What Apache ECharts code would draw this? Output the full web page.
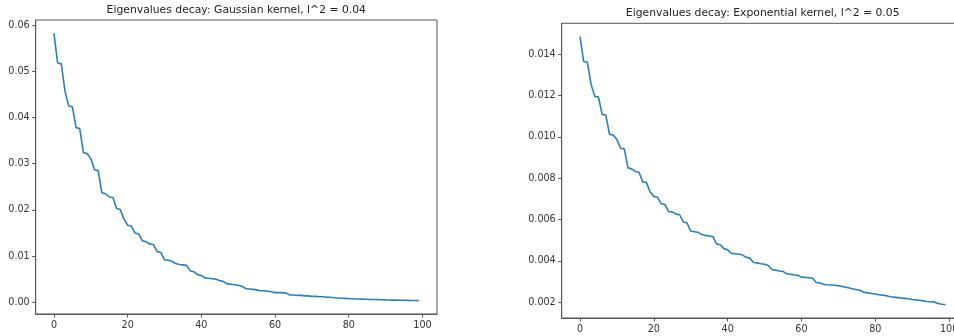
<!DOCTYPE html>
<html>
<head>
<meta charset="utf-8">
<script src="https://cdn.jsdelivr.net/npm/echarts@6/dist/echarts.min.js"></script>
<style>
html,body{margin:0;padding:0;background:#fff;}
#c{width:954px;height:336px;}
</style>
</head>
<body>
<div id="c"></div>
<script>
// ---- data ----
const titleLeft = 'Eigenvalues decay: Gaussian kernel, l^2 = 0.04';
const titleRight = 'Eigenvalues decay: Exponential kernel, l^2 = 0.05';

const gaussianEig = [
  0.0582, 0.0518, 0.0516, 0.0457, 0.0425, 0.0423, 0.0378, 0.0376, 0.0324, 0.0322,
  0.0311, 0.0287, 0.0285, 0.0237, 0.0235, 0.0228, 0.0227, 0.0203, 0.0201, 0.0180,
  0.0167, 0.0165, 0.0150, 0.0148, 0.0133, 0.0131, 0.0126, 0.0125, 0.0110, 0.0108,
  0.0092, 0.0091, 0.0089, 0.0084, 0.0082, 0.0081, 0.0080, 0.0068, 0.0066, 0.0060,
  0.0058, 0.0053, 0.0052, 0.0051, 0.0050, 0.0047, 0.0045, 0.0040, 0.0039, 0.0038,
  0.0037, 0.0035, 0.0030, 0.0029, 0.0028, 0.0027, 0.0025, 0.0025, 0.0024, 0.0023,
  0.0021, 0.0021, 0.0021, 0.0020, 0.0016, 0.0016, 0.0015, 0.0015, 0.0014, 0.0014,
  0.0013, 0.0013, 0.0012, 0.0012, 0.0011, 0.0011, 0.0010, 0.00095, 0.00088, 0.00085,
  0.00080, 0.00078, 0.00074, 0.00072, 0.00069, 0.00067, 0.00063, 0.00061, 0.00058, 0.00056,
  0.00053, 0.00051, 0.00049, 0.00048, 0.00046, 0.00044, 0.00042, 0.00040, 0.00039, 0.00037
];

const exponentialEig = [
  0.01485, 0.01365, 0.01361, 0.01255, 0.01196, 0.01193, 0.01109, 0.01106, 0.01012, 0.01009,
  0.00987, 0.00945, 0.00942, 0.00850, 0.00845, 0.00832, 0.00829, 0.00782, 0.00779, 0.00733,
  0.00712, 0.00708, 0.00676, 0.00673, 0.00639, 0.00636, 0.00626, 0.00623, 0.00588, 0.00583,
  0.00544, 0.00541, 0.00538, 0.00527, 0.00523, 0.00520, 0.00517, 0.00482, 0.00478, 0.00459,
  0.00453, 0.00436, 0.00434, 0.00432, 0.00429, 0.00417, 0.00413, 0.00392, 0.00390, 0.00386,
  0.00383, 0.00377, 0.00358, 0.00355, 0.00351, 0.00349, 0.00337, 0.00335, 0.00332, 0.00330,
  0.00321, 0.00320, 0.00318, 0.00316, 0.00295, 0.00293, 0.00286, 0.00284, 0.00283, 0.00282,
  0.00280, 0.00276, 0.00272, 0.00268, 0.00264, 0.00260, 0.00256, 0.00247, 0.00245, 0.00242,
  0.00239, 0.00236, 0.00234, 0.00231, 0.00226, 0.00224, 0.00222, 0.00220, 0.00218, 0.00216,
  0.00213, 0.00211, 0.00209, 0.00206, 0.00203, 0.00202, 0.00201, 0.00193, 0.00190, 0.00188
];

const xTicks = [0, 20, 40, 60, 80, 100];
const xTickLabels = ['0', '20', '40', '60', '80', '100'];
const leftYTicks = [0.00, 0.01, 0.02, 0.03, 0.04, 0.05, 0.06];
const leftYTickLabels = ['0.00', '0.01', '0.02', '0.03', '0.04', '0.05', '0.06'];
const rightYTicks = [0.002, 0.004, 0.006, 0.008, 0.010, 0.012, 0.014];
const rightYTickLabels = ['0.002', '0.004', '0.006', '0.008', '0.010', '0.012', '0.014'];

// ---- helpers ----
function pairs(arr) { return arr.map((v, i) => [i, v]); }
function labelFor(ticks, labels) {
  return function (v) {
    let best = 0, bd = Infinity;
    ticks.forEach((t, i) => { const d = Math.abs(t - v); if (d < bd) { bd = d; best = i; } });
    return labels[best];
  };
}
function range(arr, frac) {
  const mn = Math.min.apply(null, arr), mx = Math.max.apply(null, arr);
  const m = (mx - mn) * frac;
  return [mn - m, mx + m];
}
const xr = [-(gaussianEig.length - 1) * 0.05, (gaussianEig.length - 1) * 1.05];
const lyr = range(gaussianEig, 0.05);
const ryr = range(exponentialEig, 0.05);

const frameColor = '#555';
const labelColor = '#333';
const font = 'DejaVu Sans';

function xAxisCfg(gi) {
  return {
    type: 'value', gridIndex: gi, min: xr[0], max: xr[1],
    splitLine: { show: false },
    axisLine: { show: true, onZero: false, lineStyle: { color: frameColor, width: 1 } },
    axisTick: { show: true, length: 3.5, customValues: xTicks, lineStyle: { color: frameColor } },
    axisLabel: { customValues: xTicks, formatter: labelFor(xTicks, xTickLabels),
      color: labelColor, fontFamily: font, fontSize: 9.6, margin: 6 }
  };
}
function yAxisCfg(gi, r, ticks, labels) {
  return {
    type: 'value', gridIndex: gi, min: r[0], max: r[1],
    splitLine: { show: false },
    axisLine: { show: true, onZero: false, lineStyle: { color: frameColor, width: 1 } },
    axisTick: { show: true, length: 3.5, customValues: ticks, lineStyle: { color: frameColor } },
    axisLabel: { customValues: ticks, formatter: labelFor(ticks, labels),
      color: labelColor, fontFamily: font, fontSize: 9.6, margin: 6 }
  };
}

const chart = echarts.init(document.getElementById('c'), null, { renderer: 'canvas' });
chart.setOption({
  animation: false,
  backgroundColor: '#fff',
  grid: [
    { left: 35.7, top: 20, width: 401.3, height: 294, show: true, borderColor: frameColor, borderWidth: 1,
      containLabel: false, outerBoundsMode: 'none' },
    { left: 561.7, top: 23.3, width: 402, height: 294.7, show: true, borderColor: frameColor, borderWidth: 1,
      containLabel: false, outerBoundsMode: 'none' }
  ],
  xAxis: [xAxisCfg(0), xAxisCfg(1)],
  yAxis: [
    yAxisCfg(0, lyr, leftYTicks, leftYTickLabels),
    yAxisCfg(1, ryr, rightYTicks, rightYTickLabels)
  ],
  graphic: [
    { type: 'text', x: 236.3, y: 10.5, style: { text: titleLeft, textAlign: 'center', textVerticalAlign: 'middle',
      font: '10.8px "DejaVu Sans"', fill: '#222' } },
    { type: 'text', x: 762.7, y: 13.5, style: { text: titleRight, textAlign: 'center', textVerticalAlign: 'middle',
      font: '10.8px "DejaVu Sans"', fill: '#222' } }
  ],
  series: [
    { type: 'line', xAxisIndex: 0, yAxisIndex: 0, data: pairs(gaussianEig), showSymbol: false, symbol: 'none',
      lineStyle: { color: '#2a7fbd', width: 1.6 }, itemStyle: { color: '#2a7fbd' } },
    { type: 'line', xAxisIndex: 1, yAxisIndex: 1, data: pairs(exponentialEig), showSymbol: false, symbol: 'none',
      lineStyle: { color: '#2a7fbd', width: 1.6 }, itemStyle: { color: '#2a7fbd' } }
  ]
});
</script>
</body>
</html>
